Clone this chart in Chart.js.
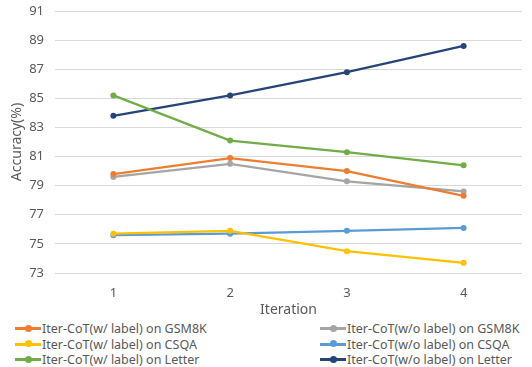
<!DOCTYPE html>
<html>
<head>
<meta charset="utf-8">
<script src="https://cdn.jsdelivr.net/npm/chart.js@4.4.1/dist/chart.umd.min.js"></script>
<style>
  body { margin: 0; background: #fff; font-family: "Noto Sans", sans-serif; }
  #wrap { position: relative; width: 532px; height: 367px; }
  #legend { position: absolute; left: 15px; top: 321px; width: 517px;
            display: grid; grid-template-columns: 305px 212px; row-gap: 0; }
  .item { display: flex; align-items: center; height: 15.5px; font-size: 12.5px; color: #595959; white-space: nowrap; }
  .mark { position: relative; width: 26px; height: 3px; margin-right: 1px; }
  .mark span { position: absolute; left: 10px; top: -2.5px; width: 7px; height: 7px; border-radius: 50%; }
</style>
</head>
<body>
<div id="wrap">
  <canvas id="accChart" width="532" height="320"></canvas>
  <div id="legend"></div>
</div>
<script>
const iterations = ['1', '2', '3', '4'];
const seriesNames = [
    'Iter-CoT(w/ label) on GSM8K',
    'Iter-CoT(w/o label) on GSM8K',
    'Iter-CoT(w/ label) on CSQA',
    'Iter-CoT(w/o label) on CSQA',
    'Iter-CoT(w/ label) on Letter',
    'Iter-CoT(w/o label) on Letter'
];
const gsm8kLabel = [79.8, 80.9, 80.0, 78.3];
const gsm8kNoLabel = [79.6, 80.5, 79.3, 78.6];
const csqaLabel = [75.7, 75.9, 74.5, 73.7];
const csqaNoLabel = [75.6, 75.7, 75.9, 76.1];
const letterLabel = [85.2, 82.1, 81.3, 80.4];
const letterNoLabel = [83.8, 85.2, 86.8, 88.6];
const colors = ['#ED7D31', '#A5A5A5', '#FFC000', '#5B9BD5', '#70AD47', '#264478'];

const seriesValues = [gsm8kLabel, gsm8kNoLabel, csqaLabel, csqaNoLabel, letterLabel, letterNoLabel];

const datasets = seriesValues.map((vals, i) => ({
    label: seriesNames[i],
    data: vals,
    borderColor: colors[i],
    backgroundColor: colors[i],
    borderWidth: 2.25,
    pointRadius: 3,
    pointBorderWidth: 0,
    pointHoverRadius: 3,
    tension: 0
}));

// custom legend, two columns like the original
const legend = document.getElementById('legend');
datasets.forEach(ds => {
    const item = document.createElement('div');
    item.className = 'item';
    item.innerHTML = '<div class="mark" style="background:' + ds.borderColor + '"><span style="background:' +
        ds.borderColor + '"></span></div>' + ds.label;
    legend.appendChild(item);
});

const ctx = document.getElementById('accChart').getContext('2d');
new Chart(ctx, {
    type: 'line',
    data: { labels: iterations, datasets: datasets },
    options: {
        responsive: false,
        animation: false,
        layout: { padding: { top: 11, right: 10, left: 9, bottom: 0 } },
        plugins: {
            legend: { display: false },
            tooltip: { enabled: false }
        },
        scales: {
            x: {
                offset: true,
                grid: { display: false },
                border: { display: false },
                ticks: { color: '#595959', font: { family: 'Noto Sans', size: 13 }, padding: 4 },
                title: { display: true, text: 'Iteration', color: '#595959', font: { family: 'Noto Sans', size: 14 }, padding: 2 },
                afterFit: scale => { scale.height = 47; }
            },
            y: {
                min: 73,
                max: 91,
                ticks: { stepSize: 2, color: '#595959', font: { family: 'Noto Sans', size: 13 }, padding: 11 },
                grid: { color: '#D9D9D9', drawTicks: false },
                border: { display: false },
                title: { display: true, text: 'Accuracy(%)', color: '#595959', font: { family: 'Noto Sans', size: 14 }, padding: 0 },
                afterFit: scale => { scale.width = 46; scale.paddingTop = 0; scale.paddingBottom = 0; }
            }
        }
    }
});
</script>
</body>
</html>
